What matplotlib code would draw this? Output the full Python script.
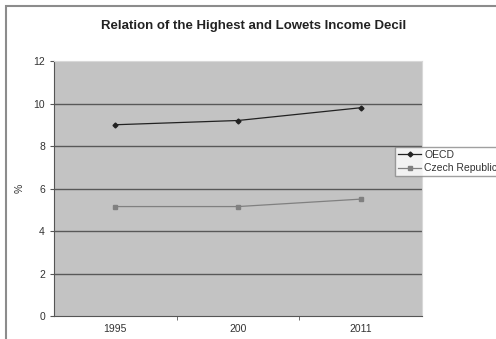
import numpy as np
import matplotlib.pyplot as plt
from matplotlib.patches import Rectangle

plt.rcParams["font.family"] = ["Liberation Sans", "DejaVu Sans"]

years = ["1995", "200", "2011"]
oecd = [9.0, 9.2, 9.8]
czech = [5.15, 5.15, 5.5]

W, H = 496, 339
fig = plt.figure(figsize=(W / 100, H / 100), dpi=100)
fig.patch.set_facecolor("white")

# outer chart frame
fig.patches.append(Rectangle((6 / W, -0.05), 1.2, 1 - 6 / H + 0.05,
                             transform=fig.transFigure, fill=False,
                             edgecolor="#8c8c8c", linewidth=1.5))

ax = fig.add_axes([54 / W, 1 - 316 / H, (422 - 54) / W, (316 - 61) / H])
ax.set_facecolor("#c3c3c3")

x = np.arange(len(years))
ax.plot(x, oecd, color="#222222", linewidth=0.9, marker="D", markersize=2.5,
        label="OECD")
ax.plot(x, czech, color="#808080", linewidth=0.9, marker="s", markersize=2.8,
        label="Czech Republic")

ax.set_xlim(-0.5, 2.5)
ax.set_ylim(0, 12)
ax.set_yticks(range(0, 13, 2))
ax.set_xticks(x)
ax.set_xticklabels(years)
ax.set_xticks([0.5, 1.5], minor=True)
ax.tick_params(axis="x", which="major", length=0, labelsize=7.5, colors="#333333", pad=6)
ax.tick_params(axis="x", which="minor", length=3, color="#555555")
ax.tick_params(axis="y", labelsize=7.5, colors="#333333", length=3)
ax.tick_params(axis="y", color="#555555")
for v in range(2, 12, 2):
    ax.axhline(v, color="#585858", linewidth=1)

for s in ["top", "right"]:
    ax.spines[s].set_color("#d8d8d8")
for s in ["left", "bottom"]:
    ax.spines[s].set_color("#555555")

ax.set_ylabel("%", fontsize=7.5, color="#333333", rotation=90, labelpad=6)

fig.text(254 / W, 1 - 26 / H, "Relation of the Highest and Lowets Income Decil",
         ha="center", va="center", fontsize=9.5, fontweight="bold", color="#222222")

leg = ax.legend(loc="upper left", bbox_to_anchor=(395 / W, 1 - 147 / H),
                bbox_transform=fig.transFigure, fontsize=7.5, frameon=True,
                fancybox=False, edgecolor="#888888", borderpad=0.3,
                labelspacing=0.3, handlelength=2.2, handletextpad=0.3,
                borderaxespad=0)
for t in leg.get_texts():
    t.set_color("#333333")

fig.savefig("out.png", dpi=100)
